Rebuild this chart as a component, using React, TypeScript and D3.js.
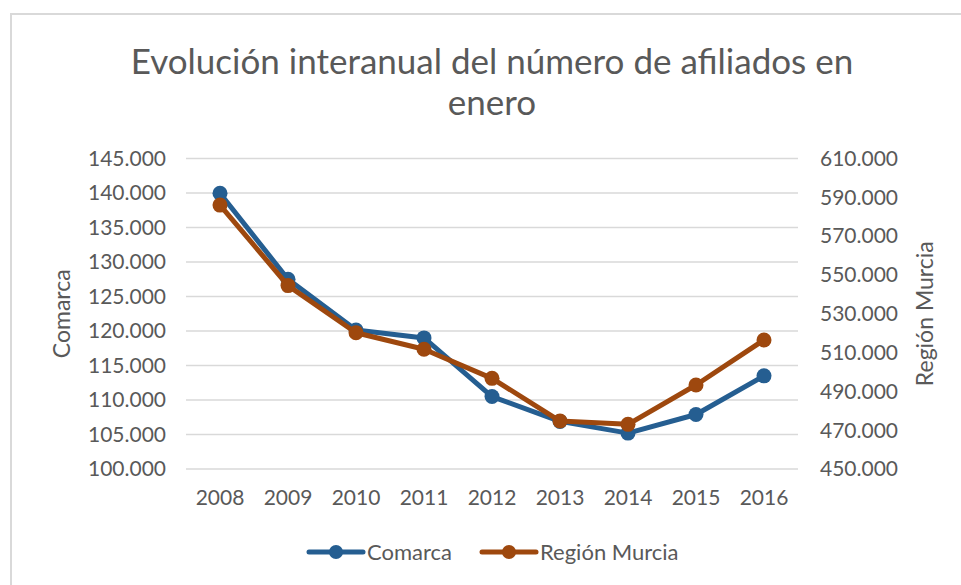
import React, { useRef, useEffect } from "react";
import * as d3 from "d3";

const years = ["2008", "2009", "2010", "2011", "2012", "2013", "2014", "2015", "2016"];
const comarca = [139960, 127500, 120150, 119000, 110500, 106900, 105200, 107900, 113500];
const regionMurcia = [586000, 544500, 520200, 511700, 496700, 474700, 473000, 493300, 516500];
const leftTicks = [100000, 105000, 110000, 115000, 120000, 125000, 130000, 135000, 140000, 145000];
const rightTicks = [450000, 470000, 490000, 510000, 530000, 550000, 570000, 590000, 610000];

const WIDTH = 961;
const HEIGHT = 585;
const FONT = "Lato, 'Open Sans', sans-serif";
const TEXT = "#595959";
const BLUE = "#255E91";
const ORANGE = "#9E480E";

const fmt = (v: number) => d3.format(",.3f")(v / 1000).replace(/,/g, "");

const App: React.FC = () => {
  const svgRef = useRef<SVGSVGElement | null>(null);

  useEffect(() => {
    const svg = d3.select(svgRef.current);
    svg.selectAll("*").remove();

    const left = 186;
    const right = 798;
    const top = 158.5;
    const bottom = 469;

    const x = d3.scalePoint<string>().domain(years).range([left, right]).padding(0.5);
    const yL = d3.scaleLinear().domain([100000, 145000]).range([bottom, top]);
    const yR = d3.scaleLinear().domain([450000, 610000]).range([bottom, top]);

    // background + border
    svg.append("rect").attr("width", WIDTH).attr("height", HEIGHT).attr("fill", "#fff");
    svg
      .append("path")
      .attr("d", `M11,${HEIGHT + 2} V14 H${WIDTH + 2}`)
      .attr("fill", "none")
      .attr("stroke", "#d9d9d9")
      .attr("stroke-width", 2);

    // title
    const title = svg
      .append("text")
      .attr("text-anchor", "middle")
      .attr("font-family", FONT)
      .attr("font-size", 35)
      .attr("fill", TEXT);
    title.append("tspan").attr("x", 492).attr("y", 74).text("Evolución interanual del número de afiliados en");
    title.append("tspan").attr("x", 492).attr("y", 115).text("enero");

    // gridlines
    svg
      .append("g")
      .selectAll("line")
      .data(leftTicks)
      .enter()
      .append("line")
      .attr("x1", left)
      .attr("x2", right)
      .attr("y1", (d) => yL(d))
      .attr("y2", (d) => yL(d))
      .attr("stroke", "#d9d9d9")
      .attr("stroke-width", 1.3);

    // left axis labels
    svg
      .append("g")
      .selectAll("text")
      .data(leftTicks)
      .enter()
      .append("text")
      .attr("x", 166)
      .attr("y", (d) => yL(d))
      .attr("dy", "0.35em")
      .attr("text-anchor", "end")
      .attr("font-family", FONT)
      .attr("font-size", 21)
      .attr("fill", TEXT)
      .text((d) => fmt(d));

    // right axis labels
    svg
      .append("g")
      .selectAll("text")
      .data(rightTicks)
      .enter()
      .append("text")
      .attr("x", 820)
      .attr("y", (d) => yR(d))
      .attr("dy", "0.35em")
      .attr("text-anchor", "start")
      .attr("font-family", FONT)
      .attr("font-size", 21)
      .attr("fill", TEXT)
      .text((d) => fmt(d));

    // x labels
    svg
      .append("g")
      .selectAll("text")
      .data(years)
      .enter()
      .append("text")
      .attr("x", (d) => x(d) as number)
      .attr("y", 505)
      .attr("text-anchor", "middle")
      .attr("font-family", FONT)
      .attr("font-size", 21)
      .attr("fill", TEXT)
      .text((d) => d);

    // axis titles
    svg
      .append("text")
      .attr("transform", `translate(70, ${(top + bottom) / 2}) rotate(-90)`)
      .attr("text-anchor", "middle")
      .attr("font-family", FONT)
      .attr("font-size", 23)
      .attr("fill", TEXT)
      .text("Comarca");
    svg
      .append("text")
      .attr("transform", `translate(933, ${(top + bottom) / 2}) rotate(-90)`)
      .attr("text-anchor", "middle")
      .attr("font-family", FONT)
      .attr("font-size", 23)
      .attr("fill", TEXT)
      .text("Región Murcia");

    const series = [
      { name: "Comarca", values: comarca, y: yL, color: BLUE },
      { name: "Región Murcia", values: regionMurcia, y: yR, color: ORANGE },
    ];

    series.forEach((s) => {
      const line = d3
        .line<number>()
        .x((_, i) => x(years[i]) as number)
        .y((d) => s.y(d));
      const g = svg.append("g");
      g.append("path")
        .attr("d", line(s.values) as string)
        .attr("fill", "none")
        .attr("stroke", s.color)
        .attr("stroke-width", 5)
        .attr("stroke-linejoin", "round");
      g.selectAll("circle")
        .data(s.values)
        .enter()
        .append("circle")
        .attr("cx", (_, i) => x(years[i]) as number)
        .attr("cy", (d) => s.y(d))
        .attr("r", 7.5)
        .attr("fill", s.color);
    });

    // legend
    const legendItems = [
      { name: "Comarca", color: BLUE, x: 309 },
      { name: "Región Murcia", color: ORANGE, x: 482 },
    ];
    const lg = svg.append("g").attr("transform", "translate(0, 552)");
    legendItems.forEach((it) => {
      lg.append("line")
        .attr("x1", it.x)
        .attr("x2", it.x + 54)
        .attr("stroke", it.color)
        .attr("stroke-width", 5)
        .attr("stroke-linecap", "round");
      lg.append("circle").attr("cx", it.x + 27).attr("r", 7).attr("fill", it.color);
      lg.append("text")
        .attr("x", it.x + 58)
        .attr("dy", "0.35em")
        .attr("font-family", FONT)
        .attr("font-size", 22)
        .attr("fill", TEXT)
        .text(it.name);
    });
  }, []);

  return (
    <svg
      ref={svgRef}
      width={WIDTH}
      height={HEIGHT}
      style={{ position: "absolute", left: 0, top: 0, display: "block" }}
    />
  );
};

export default App;
